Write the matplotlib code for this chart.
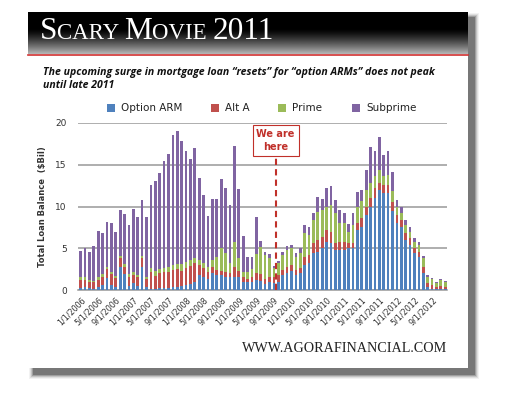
import matplotlib
matplotlib.use("Agg")
import matplotlib.pyplot as plt
import numpy as np
from matplotlib.patches import Rectangle
from matplotlib.offsetbox import TextArea, HPacker, AnchoredOffsetbox

# --- DATA (monthly, Jan 2006 - Dec 2012, $ billions) ---
option_arm = [0.2, 0.3, 0.2, 0.1, 0.3, 0.6, 1.4, 0.6, 0.4, 2.8, 1.9, 0.5,
              0.8, 0.5, 2.8, 0.3, 0.1, 0.1, 0.2, 0.2, 0.2, 0.4, 0.3, 0.5,
              0.6, 0.7, 0.9, 1.8, 1.6, 1.3, 2.0, 1.8, 1.8, 1.6, 1.5, 1.6,
              1.6, 1.0, 0.9, 1.0, 1.2, 1.1, 0.7, 0.9, 0.8, 1.0, 1.8, 2.0,
              2.3, 1.8, 2.0, 3.0, 3.2, 4.4, 4.6, 5.0, 5.8, 5.6, 4.8, 4.8,
              4.8, 5.0, 5.0, 7.2, 7.6, 9.0, 10.0, 11.0, 12.0, 11.6, 11.6, 9.5,
              8.0, 7.6, 6.0, 5.4, 4.4, 4.0, 2.0, 0.3, 0.1, 0.1, 0.1, 0.1]
alt_a = [1.0, 0.9, 0.8, 0.8, 0.9, 1.0, 1.1, 1.3, 1.0, 1.0, 0.9, 1.1,
         1.0, 1.0, 1.0, 1.0, 2.0, 1.6, 1.8, 1.9, 2.0, 2.0, 2.2, 1.8,
         2.0, 2.2, 2.3, 1.2, 1.0, 0.8, 0.8, 0.6, 0.5, 0.6, 0.5, 1.2,
         0.7, 0.5, 0.4, 0.5, 0.8, 0.8, 0.6, 0.6, 0.8, 0.8, 0.6, 0.8,
         0.7, 0.6, 0.6, 1.0, 1.0, 1.2, 1.4, 1.4, 1.4, 1.4, 0.8, 1.0,
         1.0, 0.6, 0.6, 0.8, 1.0, 1.0, 1.0, 1.2, 0.8, 1.0, 1.0, 1.0,
         1.0, 0.8, 0.8, 0.8, 0.6, 0.6, 0.8, 0.5, 0.5, 0.3, 0.4, 0.3]
prime = [0.3, 0.3, 0.2, 0.2, 0.3, 0.3, 0.3, 0.2, 0.3, 0.3, 0.3, 0.3,
         0.3, 0.3, 0.3, 0.3, 0.5, 0.6, 0.5, 0.5, 0.5, 0.6, 0.6, 0.8,
         0.8, 0.7, 0.6, 0.6, 0.6, 0.7, 0.8, 1.5, 2.7, 2.2, 1.2, 3.0,
         1.5, 0.7, 0.8, 1.0, 2.3, 3.3, 2.9, 2.3, 1.0, 1.4, 1.8, 2.0,
         2.0, 1.6, 1.8, 2.8, 2.4, 2.8, 3.4, 3.2, 2.8, 3.2, 3.6, 2.2,
         2.2, 1.4, 2.2, 2.0, 2.0, 2.0, 1.8, 1.4, 1.6, 1.0, 1.2, 1.3,
         1.0, 0.8, 1.0, 0.8, 0.8, 0.8, 1.0, 0.8, 0.7, 0.4, 0.7, 0.6]
subprime = [3.2, 3.5, 3.4, 4.2, 5.6, 4.9, 5.4, 5.9, 5.2, 5.5, 6.0, 5.9,
            7.6, 7.0, 6.7, 7.2, 10.0, 10.8, 11.5, 12.8, 13.6, 15.6, 16.0, 14.8,
            13.2, 12.1, 13.2, 9.8, 8.2, 6.1, 7.3, 7.0, 8.3, 7.8, 7.0, 11.5,
            8.3, 4.3, 1.9, 1.5, 4.4, 0.7, 0.4, 0.5, 0.3, 0.3, 0.4, 0.5,
            0.4, 0.4, 0.6, 1.0, 0.9, 0.8, 1.7, 1.3, 2.2, 2.2, 1.6, 1.6,
            1.2, 0.9, 1.4, 1.7, 1.4, 2.4, 4.3, 3.0, 3.9, 2.6, 2.9, 2.3,
            0.8, 0.8, 0.6, 0.6, 0.4, 0.3, 0.3, 0.2, 0.1, 0.1, 0.1, 0.1]
tick_labels = ["1/1/2006", "5/1/2006", "9/1/2006", "1/1/2007", "5/1/2007",
               "9/1/2007", "1/1/2008", "5/1/2008", "9/1/2008", "1/1/2009",
               "5/1/2009", "9/1/2009", "1/1/2010", "5/1/2010", "9/1/2010",
               "1/1/2011", "5/1/2011", "9/1/2011", "1/1/2012", "5/1/2012",
               "9/1/2012"]
we_are_here = 44.4  # month index of "We are here" marker

series = [("Option ARM", option_arm, "#4f81bd"),
          ("Alt A", alt_a, "#c0504d"),
          ("Prime", prime, "#9bbb59"),
          ("Subprime", subprime, "#8064a2")]

W, H = 506, 403
fig = plt.figure(figsize=(W / 100, H / 100), dpi=100)
fig.patch.set_facecolor("white")

def px(x0, y0, x1, y1):
    # pixel box (top-left origin) -> figure fraction rect
    return [x0 / W, 1 - y1 / H, (x1 - x0) / W, (y1 - y0) / H]

# --- card with drop shadow ---
bg = fig.add_axes([0, 0, 1, 1])
bg.set_xlim(0, W)
bg.set_ylim(H, 0)
bg.axis("off")
for i, a in enumerate([0.05, 0.08, 0.12, 0.18, 0.25]):
    d = 5 - i
    bg.add_patch(Rectangle((28 + 6 - d, 12 + 6 - d), 440 + 2 * d, 356 + 2 * d,
                           color="black", alpha=a, lw=0))
bg.add_patch(Rectangle((28, 12), 440, 356, color="white", lw=0))

# header gradient band
grad = np.linspace(0, 1, 100).reshape(-1, 1)
grad = np.clip((grad - 0.4) / 0.6, 0, 1) ** 1.3
bg.imshow(grad, cmap="gray", vmin=0, vmax=1.4, extent=(28, 468, 54, 12),
          aspect="auto", zorder=2)
bg.plot([28, 468], [54.5, 54.5], color="#d03030", lw=1.2, zorder=3)

# title in small caps
parts = [("S", 22.5), ("CARY ", 16.5), ("M", 22.5), ("OVIE ", 16.5), ("2011", 22.5)]
boxes = [TextArea(t, textprops=dict(color="white", fontsize=s,
                                    family="Liberation Serif"))
         for t, s in parts]
pack = HPacker(children=boxes, align="baseline", pad=0, sep=0)
ab = AnchoredOffsetbox(loc="lower left", child=pack, frameon=False, pad=0,
                       bbox_to_anchor=(40, 46), bbox_transform=bg.transData,
                       borderpad=0)
ab.set_zorder(4)
bg.add_artist(ab)

bg.text(43, 72, "The upcoming surge in mortgage loan \u201cresets\u201d for \u201coption ARMs\u201d does not peak",
        fontsize=7.6, fontweight="bold", style="italic", family="Open Sans",
        va="center", ha="left", color="#111111")
bg.text(43, 85, "until late 2011", fontsize=7.6, fontweight="bold", style="italic",
        family="Open Sans", va="center", ha="left", color="#111111")

bg.text(447, 349, "WWW.AGORAFINANCIAL.COM", fontsize=10.2, family="Liberation Serif",
        ha="right", va="center", color="#222222")

# --- chart ---
ax = fig.add_axes(px(78, 123, 447, 290))
x = np.arange(len(option_arm))
bottom = np.zeros(len(x))
for name, vals, col in series:
    ax.bar(x, vals, width=0.62, bottom=bottom, color=col, label=name, lw=0, zorder=3)
    bottom += np.array(vals)

ax.set_xlim(-0.6, 83.4)
ax.set_ylim(0, 20)
ax.set_yticks([0, 5, 10, 15, 20])
ax.yaxis.grid(True, color="#999999", lw=1.1, zorder=0)
for s in ["top", "right", "left"]:
    ax.spines[s].set_visible(False)
ax.spines["bottom"].set_color("#999999")
ax.spines["bottom"].set_linewidth(1.1)
ax.tick_params(axis="y", length=0, labelsize=6.5, colors="#333333", pad=8)
ax.set_xticks(np.arange(0, len(x), 4))
ax.set_xticklabels(tick_labels, rotation=45, ha="right", rotation_mode="anchor",
                   fontsize=5.8, color="#333333")
ax.tick_params(axis="x", length=0, pad=4)
ax.set_ylabel("Total Loan Balance  ($Bil)", fontsize=6, fontweight="bold",
              color="#333333", labelpad=6)

# "We are here" marker
ax.plot([we_are_here, we_are_here], [0, 15.8], color="#c0302a", lw=1.5,
        ls=(0, (3, 2)), zorder=4)
ax.text(we_are_here, 17.9, "We are\nhere", ha="center", va="center",
        fontsize=7, fontweight="bold", color="#c0302a", linespacing=1.4,
        bbox=dict(boxstyle="square,pad=0.4", fc="white", ec="#c0302a", lw=0.8),
        zorder=5)

# legend (placed like the original, above the plot)
leg_x = [107, 211, 278, 352]
for (name, vals, col), lx in zip(series, leg_x):
    bg.add_patch(Rectangle((lx, 104), 8, 8, color=col, lw=0))
    bg.text(lx + 14, 108, name, fontsize=7.5, va="center", ha="left",
            color="#222222")

fig.savefig("out.png", dpi=100)
